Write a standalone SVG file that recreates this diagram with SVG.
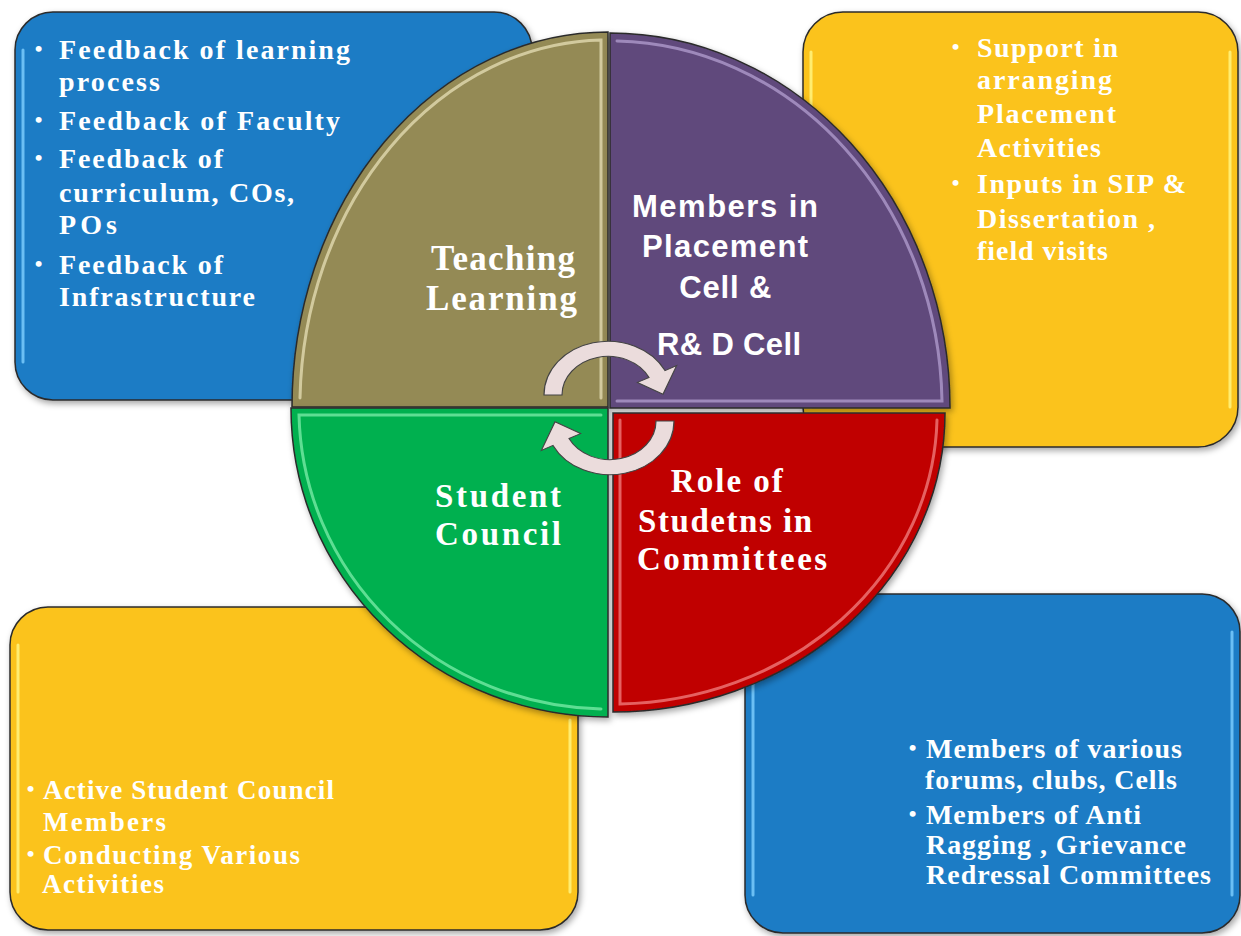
<svg xmlns="http://www.w3.org/2000/svg" width="1241" height="936" viewBox="0 0 1241 936">
<defs>
<filter id="sh" x="-10%" y="-10%" width="120%" height="120%">
<feDropShadow dx="2" dy="3" stdDeviation="3" flood-color="#000" flood-opacity="0.35"/>
</filter>
<path id="arrow" d="M-64,0 A64,64 0 0 1 57.02,-29.06 L68.61,-34.96 L54.99,-0.96 L29.40,-14.98 L40.99,-20.88 A46,46 0 0 0 -46,0 Z"/>
</defs>
<style>
.box{stroke:#2b2b2b;stroke-width:1.5;filter:url(#sh)}
.blue{fill:#1C7BC5}
.yellow{fill:#FBC31C}
.hlb{stroke:#7FD0FF;stroke-width:3;fill:none;stroke-linecap:round;opacity:0.8}
.hly{stroke:#FFF27A;stroke-width:3;fill:none;stroke-linecap:round;opacity:0.9}
.q{stroke:#2b2b2b;stroke-width:1.5;filter:url(#sh)}
.hl{fill:none;stroke-width:3;stroke-linecap:round;opacity:0.7}
.t{font-family:"Liberation Serif","Times New Roman",serif;font-weight:bold;fill:#fff}
.s{font-family:"Liberation Sans",Arial,sans-serif;font-weight:bold;fill:#fff}
.b{font-size:22px}
.arr{fill:#EBDCDC;stroke:#444;stroke-width:1.2}
</style>
<rect width="1241" height="936" fill="#fff"/>

<g id="box-teaching-feedback">
<rect class="box blue" x="15" y="12" width="517" height="388" rx="38"/>
<line class="hlb" x1="23" y1="50" x2="23" y2="362"/>
<text class="t" font-size="28">
<tspan class="b" x="42" y="56" text-anchor="middle">•</tspan>
<tspan x="59" y="59" textLength="291">Feedback of learning</tspan>
<tspan x="59" y="91" textLength="101">process</tspan>
<tspan class="b" x="42" y="127" text-anchor="middle">•</tspan>
<tspan x="59" y="130" textLength="281">Feedback of Faculty</tspan>
<tspan class="b" x="42" y="165" text-anchor="middle">•</tspan>
<tspan x="59" y="168" textLength="164">Feedback of</tspan>
<tspan x="59" y="202" textLength="235">curriculum, COs,</tspan>
<tspan x="59" y="234" textLength="58">POs</tspan>
<tspan class="b" x="42" y="271" text-anchor="middle">•</tspan>
<tspan x="59" y="274" textLength="164">Feedback of</tspan>
<tspan x="59" y="306" textLength="196">Infrastructure</tspan>
</text>
</g>

<g id="box-placement-support">
<rect class="box yellow" x="803" y="12" width="435" height="435" rx="40"/>
<line class="hly" x1="811" y1="52" x2="811" y2="407"/>
<line class="hly" x1="1230" y1="52" x2="1230" y2="407"/>
<text class="t" font-size="28">
<tspan class="b" x="959" y="54" text-anchor="middle">•</tspan>
<tspan x="977" y="57" textLength="141">Support in</tspan>
<tspan x="977" y="89" textLength="135">arranging</tspan>
<tspan x="977" y="123" textLength="139">Placement</tspan>
<tspan x="977" y="157" textLength="124">Activities</tspan>
<tspan class="b" x="959" y="190" text-anchor="middle">•</tspan>
<tspan x="977" y="193" textLength="209">Inputs in SIP &amp;</tspan>
<tspan x="977" y="228" textLength="178">Dissertation ,</tspan>
<tspan x="977" y="260" textLength="131">field visits</tspan>
</text>
</g>

<g id="box-student-council">
<rect class="box yellow" x="10" y="607" width="568" height="323" rx="38"/>
<line class="hly" x1="18" y1="645" x2="18" y2="892"/>
<line class="hly" x1="570" y1="720" x2="570" y2="892"/>
<text class="t" font-size="27">
<tspan class="b" x="34" y="796" text-anchor="middle">•</tspan>
<tspan x="43" y="799" textLength="291">Active Student Council</tspan>
<tspan x="43" y="831" textLength="123">Members</tspan>
<tspan class="b" x="34" y="861" text-anchor="middle">•</tspan>
<tspan x="43" y="864" textLength="257">Conducting Various</tspan>
<tspan x="42" y="893" textLength="122">Activities</tspan>
</text>
</g>

<g id="box-committees">
<rect class="box blue" x="745" y="594" width="495" height="339" rx="38"/>
<line class="hlb" x1="753" y1="680" x2="753" y2="895"/>
<line class="hlb" x1="1232" y1="632" x2="1232" y2="895"/>
<text class="t" font-size="28">
<tspan class="b" x="916" y="755" text-anchor="middle">•</tspan>
<tspan x="926" y="758" textLength="256">Members of various</tspan>
<tspan x="925" y="789" textLength="252">forums, clubs, Cells</tspan>
<tspan class="b" x="916" y="821" text-anchor="middle">•</tspan>
<tspan x="926" y="824" textLength="215">Members of Anti</tspan>
<tspan x="926" y="854" textLength="260">Ragging , Grievance</tspan>
<tspan x="926" y="884" textLength="285">Redressal Committees</tspan>
</text>
</g>

<g id="q-teaching-learning">
<path class="q" fill="#948A54" d="M608,407 L292,407 A316,375 0 0 1 608,32 Z"/>
<path class="hl" stroke="#EDE6BE" d="M300,398 A308,367 0 0 1 601,40 L601,398"/>
<text class="t" font-size="35">
<tspan x="431" y="270" textLength="144">Teaching</tspan>
<tspan x="426" y="310" textLength="151">Learning</tspan>
</text>
</g>

<g id="q-placement">
<path class="q" fill="#604A7B" d="M610,408 L610,33 A340,375 0 0 1 950,408 Z"/>
<path class="hl" stroke="#B9A5D6" d="M617,41 A332,367 0 0 1 942,401 L617,401"/>
<text class="s" font-size="31" text-anchor="middle">
<tspan x="730" y="217" textLength="186">Members in</tspan>
<tspan x="730" y="257" textLength="166">Placement</tspan>
<tspan x="730" y="298" textLength="92">Cell &amp;</tspan>
<tspan x="729" y="355" textLength="144">R&amp; D Cell</tspan>
</text>
</g>

<g id="q-student-council">
<path class="q" fill="#00B050" d="M608,717 A317,309 0 0 1 291,408 L608,408 Z"/>
<path class="hl" stroke="#86F2B0" d="M601,415 L299,415 A309,301 0 0 0 601,709"/>
<text class="t" font-size="33">
<tspan x="435" y="507" textLength="126">Student</tspan>
<tspan x="435" y="545" textLength="126">Council</tspan>
</text>
</g>

<g id="q-committees">
<path class="q" fill="#C00000" d="M613,413 L945,413 A332,299 0 0 1 613,712 Z"/>
<path class="hl" stroke="#F58A8A" d="M937,420 A324,291 0 0 1 620,704 L620,420"/>
<text class="t" font-size="33" text-anchor="middle">
<tspan x="732" y="492" textLength="112">Role of</tspan>
<tspan x="730" y="532" textLength="174">Studetns in</tspan>
<tspan x="732" y="570" textLength="190">Committees</tspan>
</text>
</g>

<g id="connectors">
<use href="#arrow" class="arr" transform="translate(608,395) scale(1,0.84)" vector-effect="non-scaling-stroke"/>
<use href="#arrow" class="arr" transform="rotate(180 609 408) translate(608,395) scale(1,0.84)" vector-effect="non-scaling-stroke"/>
</g>
</svg>
